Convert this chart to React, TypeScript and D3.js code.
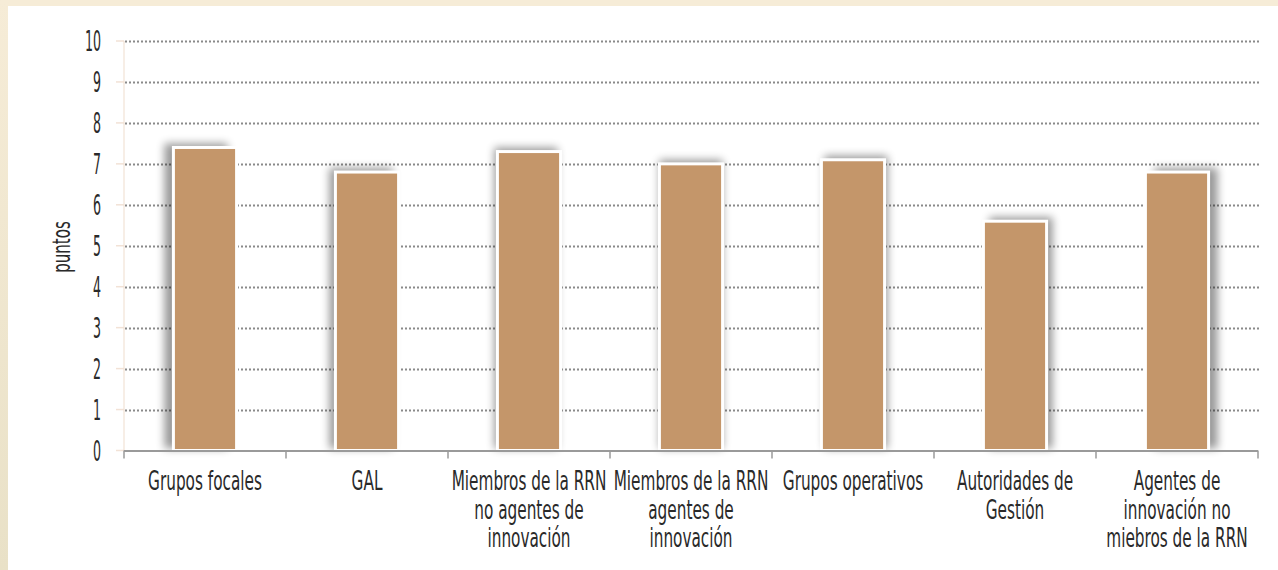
import * as d3 from "d3";

const categories: string[][] = [
  ["Grupos focales"],
  ["GAL"],
  ["Miembros de la RRN", "no agentes de", "innovación"],
  ["Miembros de la RRN", "agentes de", "innovación"],
  ["Grupos operativos"],
  ["Autoridades de", "Gestión"],
  ["Agentes de", "innovación no", "miebros de la RRN"],
];
const values: number[] = [7.4, 6.8, 7.3, 7.0, 7.1, 5.6, 6.8];
const yTicks: number[] = [0, 1, 2, 3, 4, 5, 6, 7, 8, 9, 10];
const yLabel = "puntos";

const W = 1278;
const H = 570;
const FONT = "'DejaVu Sans Condensed', 'DejaVu Sans', sans-serif";

export default function App() {
  const left = 124;
  const right = 1258;
  const top = 41;
  const bottom = 450.5;

  const x = d3
    .scaleBand<number>()
    .domain(d3.range(categories.length))
    .range([left, right])
    .padding(0);
  const y = d3.scaleLinear().domain([0, 10]).range([bottom, top]);

  const barW = x.bandwidth() * 0.39;

  return (
    <div style={{ position: "absolute", left: 0, top: 0 }}>
      <svg width={W} height={H} style={{ display: "block" }}>
        <defs>
          <linearGradient id="sideBand" x1="0" y1="0" x2="0" y2="1">
            <stop offset="0%" stopColor="#F6ECD7" />
            <stop offset="100%" stopColor="#E9E1C7" />
          </linearGradient>
          <filter id="barShadow" x="-50%" y="-50%" width="200%" height="200%">
            <feGaussianBlur stdDeviation="4.5" />
          </filter>
        </defs>

        {/* page background */}
        <rect x={0} y={0} width={W} height={H} fill="#ffffff" />
        <rect x={0} y={0} width={W} height={6} fill="#F6ECD7" />
        <rect x={0} y={0} width={8} height={H} fill="url(#sideBand)" />

        {/* y axis line and small ticks */}
        <line x1={left} x2={left} y1={top} y2={bottom} stroke="#F4E8DE" strokeWidth={1.5} />
        {yTicks.map((t) => (
          <line
            key={"yt" + t}
            x1={left - 8}
            x2={left}
            y1={y(t)}
            y2={y(t)}
            stroke="#F2E2D6"
            strokeWidth={1.5}
          />
        ))}

        {/* dotted gridlines */}
        {yTicks
          .filter((t) => t > 0)
          .map((t) => (
            <line
              key={"g" + t}
              x1={left + 1}
              x2={right + 1}
              y1={Math.round(y(t)) + 0.5}
              y2={Math.round(y(t)) + 0.5}
              stroke="#8a8a8a"
              strokeWidth={2}
              strokeDasharray="2 2"
            />
          ))}

        {/* y tick labels */}
        {yTicks.map((t) => (
          <text
            key={"yl" + t}
            transform={`translate(${101},${y(t) + 10}) scale(0.5,1)`}
            textAnchor="end"
            fontFamily={FONT}
            fontSize={28}
            fill="#2a2a2a"
          >
            {t}
          </text>
        ))}

        {/* y axis title */}
        <text
          transform={`translate(${70},${247}) rotate(-90) scale(0.67,1)`}
          textAnchor="middle"
          fontFamily={FONT}
          fontSize={25}
          fill="#2a2a2a"
        >
          {yLabel}
        </text>

        {/* bars */}
        {values.map((v, i) => {
          const cx = (x(i) as number) + x.bandwidth() / 2;
          const bx = cx - barW / 2;
          const by = y(v);
          const dx = (i - 3) * 3;
          return (
            <g key={"b" + i}>
              <rect
                x={bx + dx}
                y={by - 4}
                width={barW}
                height={bottom - by + 2}
                fill="#000"
                opacity={0.4}
                filter="url(#barShadow)"
              />
              <rect
                x={bx}
                y={by}
                width={barW}
                height={bottom - by}
                fill="#C4966A"
                stroke="#ffffff"
                strokeWidth={3}
              />
            </g>
          );
        })}

        {/* x axis */}
        <line x1={left} x2={right} y1={bottom + 0.5} y2={bottom + 0.5} stroke="#9a9a9a" strokeWidth={2} />
        {d3.range(categories.length + 1).map((i) => {
          const tx = i < categories.length ? (x(i) as number) : right;
          return (
            <line
              key={"xt" + i}
              x1={tx}
              x2={tx}
              y1={bottom}
              y2={bottom + 8}
              stroke="#9a9a9a"
              strokeWidth={1.5}
            />
          );
        })}

        {/* category labels */}
        {categories.map((lines, i) => {
          const cx = (x(i) as number) + x.bandwidth() / 2;
          return lines.map((ln, j) => (
            <text
              key={"c" + i + "-" + j}
              transform={`translate(${cx},${490 + j * 28.5}) scale(0.63,1)`}
              textAnchor="middle"
              fontFamily={FONT}
              fontSize={27}
              fill="#2a2a2a"
            >
              {ln}
            </text>
          ));
        })}
      </svg>
    </div>
  );
}
